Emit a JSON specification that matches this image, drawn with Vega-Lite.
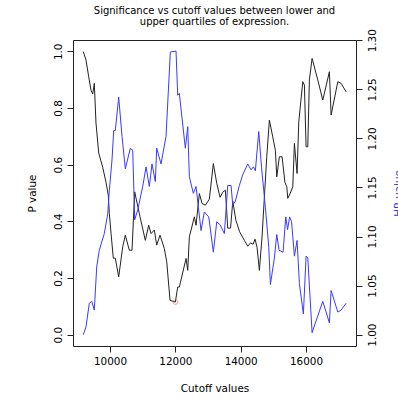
{
  "$schema": "https://vega.github.io/schema/vega-lite/v6.json",
  "width": 283,
  "height": 306,
  "autosize": {"type": "none"},
  "padding": {"left": 73, "top": 40, "right": 42, "bottom": 53},
  "background": "white",
  "title": {
    "text": ["Significance vs cutoff values between lower and", "upper quartiles of expression."],
    "font": "DejaVu Sans",
    "fontSize": 10,
    "fontWeight": "normal",
    "color": "black",
    "anchor": "middle",
    "lineHeight": 11,
    "offset": 2
  },
  "config": {
    "view": {"stroke": "#222", "strokeWidth": 1},
    "axis": {
      "labelFont": "DejaVu Sans",
      "labelFontSize": 10.4,
      "labelColor": "black",
      "titleFont": "DejaVu Sans",
      "titleFontSize": 10.4,
      "titleFontWeight": "normal",
      "titleColor": "black",
      "tickColor": "#222",
      "tickSize": 6,
      "domain": false,
      "grid": false
    }
  },
  "layer": [
    {
      "layer": [
        {
          "data": {"values": [
            {"c": 9182, "p": 0.999}, {"c": 9265, "p": 0.969}, {"c": 9348, "p": 0.910}, {"c": 9418, "p": 0.863},
            {"c": 9470, "p": 0.849}, {"c": 9519, "p": 0.887}, {"c": 9571, "p": 0.747}, {"c": 9654, "p": 0.641},
            {"c": 9776, "p": 0.591}, {"c": 9877, "p": 0.538}, {"c": 9948, "p": 0.492}, {"c": 9979, "p": 0.428},
            {"c": 10031, "p": 0.358}, {"c": 10101, "p": 0.270}, {"c": 10162, "p": 0.270}, {"c": 10266, "p": 0.204},
            {"c": 10389, "p": 0.310}, {"c": 10469, "p": 0.351}, {"c": 10591, "p": 0.298}, {"c": 10674, "p": 0.298},
            {"c": 10756, "p": 0.504}, {"c": 10919, "p": 0.416}, {"c": 11081, "p": 0.333}, {"c": 11185, "p": 0.386},
            {"c": 11256, "p": 0.357}, {"c": 11357, "p": 0.369}, {"c": 11430, "p": 0.316}, {"c": 11531, "p": 0.351},
            {"c": 11663, "p": 0.304}, {"c": 11737, "p": 0.257}, {"c": 11838, "p": 0.121}, {"c": 12000, "p": 0.115},
            {"c": 12073, "p": 0.168}, {"c": 12122, "p": 0.168}, {"c": 12328, "p": 0.269}, {"c": 12380, "p": 0.227},
            {"c": 12429, "p": 0.345}, {"c": 12582, "p": 0.416}, {"c": 12634, "p": 0.386}, {"c": 12735, "p": 0.498},
            {"c": 12818, "p": 0.463}, {"c": 12919, "p": 0.457}, {"c": 13041, "p": 0.478}, {"c": 13164, "p": 0.604},
            {"c": 13268, "p": 0.534}, {"c": 13369, "p": 0.485}, {"c": 13452, "p": 0.503}, {"c": 13531, "p": 0.510},
            {"c": 13605, "p": 0.376}, {"c": 13691, "p": 0.376}, {"c": 13758, "p": 0.471}, {"c": 13853, "p": 0.404},
            {"c": 13969, "p": 0.363}, {"c": 14113, "p": 0.333}, {"c": 14217, "p": 0.312}, {"c": 14303, "p": 0.324},
            {"c": 14380, "p": 0.319}, {"c": 14441, "p": 0.337}, {"c": 14502, "p": 0.308}, {"c": 14573, "p": 0.227},
            {"c": 14655, "p": 0.345}, {"c": 14726, "p": 0.486}, {"c": 14799, "p": 0.628}, {"c": 14879, "p": 0.757},
            {"c": 14983, "p": 0.698}, {"c": 15063, "p": 0.651}, {"c": 15106, "p": 0.557}, {"c": 15185, "p": 0.628},
            {"c": 15268, "p": 0.628}, {"c": 15354, "p": 0.538}, {"c": 15412, "p": 0.522}, {"c": 15442, "p": 0.481},
            {"c": 15513, "p": 0.498}, {"c": 15596, "p": 0.522}, {"c": 15645, "p": 0.675}, {"c": 15727, "p": 0.569},
            {"c": 15779, "p": 0.751}, {"c": 15902, "p": 0.893}, {"c": 15951, "p": 0.881}, {"c": 16003, "p": 0.663},
            {"c": 16055, "p": 0.663}, {"c": 16104, "p": 0.899}, {"c": 16187, "p": 0.975}, {"c": 16361, "p": 0.899},
            {"c": 16514, "p": 0.828}, {"c": 16716, "p": 0.928}, {"c": 16769, "p": 0.775}, {"c": 16974, "p": 0.893},
            {"c": 17075, "p": 0.887}, {"c": 17228, "p": 0.857}
          ]},
          "mark": {"type": "line", "color": "#222", "strokeWidth": 1, "clip": true},
          "encoding": {
            "x": {"field": "c", "type": "quantitative", "sort": null,
                  "scale": {"domain": [8867, 17531], "nice": false, "zero": false},
                  "axis": {"values": [10000, 12000, 14000, 16000], "format": "d", "labelPadding": 4, "labelBaseline": "top",
                           "title": "Cutoff values", "titleColor": "black", "titleX": 141.5, "titleY": 42, "titleBaseline": "middle", "titleAlign": "center"}},
            "y": {"field": "p", "type": "quantitative",
                  "scale": {"domain": [-0.04, 1.04], "nice": false, "zero": false},
                  "axis": {"orient": "left", "values": [0, 0.2, 0.4, 0.6, 0.8, 1.0], "format": ".1f",
                           "labelAngle": -90, "labelAlign": "center", "labelBaseline": "bottom", "labelPadding": 4,
                           "title": "P value", "titleColor": "black", "titleX": -41, "titleY": 153, "titleAngle": -90,
                           "titleAlign": "center", "titleBaseline": "middle"}}
          }
        },
        {
          "data": {"values": [{"c": 12000, "p": 0.115}]},
          "mark": {"type": "point", "shape": "circle", "filled": false, "stroke": "#f06060", "strokeWidth": 0.8, "size": 22},
          "encoding": {
            "x": {"field": "c", "type": "quantitative",
                  "scale": {"domain": [8867, 17531], "nice": false, "zero": false},
                  "axis": {"values": [10000, 12000, 14000, 16000], "format": "d", "labelPadding": 4, "labelBaseline": "top",
                           "title": "Cutoff values", "titleColor": "black", "titleX": 141.5, "titleY": 42, "titleBaseline": "middle", "titleAlign": "center"}},
            "y": {"field": "p", "type": "quantitative",
                  "scale": {"domain": [-0.04, 1.04], "nice": false, "zero": false},
                  "axis": {"orient": "left", "values": [0, 0.2, 0.4, 0.6, 0.8, 1.0], "format": ".1f",
                           "labelAngle": -90, "labelAlign": "center", "labelBaseline": "bottom", "labelPadding": 4,
                           "title": "P value", "titleColor": "black", "titleX": -41, "titleY": 153, "titleAngle": -90,
                           "titleAlign": "center", "titleBaseline": "middle"}}
          }
        }
      ]
    },
    {
      "data": {"values": [
        {"c": 9182, "hr": 1.000}, {"c": 9265, "hr": 1.008}, {"c": 9366, "hr": 1.032}, {"c": 9440, "hr": 1.034},
        {"c": 9519, "hr": 1.025}, {"c": 9593, "hr": 1.069}, {"c": 9672, "hr": 1.086}, {"c": 9825, "hr": 1.103},
        {"c": 9930, "hr": 1.123}, {"c": 9979, "hr": 1.147}, {"c": 10061, "hr": 1.178}, {"c": 10113, "hr": 1.208},
        {"c": 10162, "hr": 1.208}, {"c": 10266, "hr": 1.242}, {"c": 10368, "hr": 1.202}, {"c": 10469, "hr": 1.169},
        {"c": 10622, "hr": 1.190}, {"c": 10695, "hr": 1.188}, {"c": 10756, "hr": 1.117}, {"c": 10848, "hr": 1.127},
        {"c": 11001, "hr": 1.151}, {"c": 11103, "hr": 1.171}, {"c": 11204, "hr": 1.151}, {"c": 11286, "hr": 1.174},
        {"c": 11387, "hr": 1.156}, {"c": 11430, "hr": 1.190}, {"c": 11562, "hr": 1.174}, {"c": 11715, "hr": 1.202},
        {"c": 11847, "hr": 1.288}, {"c": 12021, "hr": 1.289}, {"c": 12073, "hr": 1.244}, {"c": 12122, "hr": 1.246},
        {"c": 12306, "hr": 1.190}, {"c": 12380, "hr": 1.212}, {"c": 12429, "hr": 1.161}, {"c": 12551, "hr": 1.144},
        {"c": 12634, "hr": 1.151}, {"c": 12787, "hr": 1.106}, {"c": 12888, "hr": 1.125}, {"c": 13023, "hr": 1.120},
        {"c": 13164, "hr": 1.084}, {"c": 13268, "hr": 1.115}, {"c": 13369, "hr": 1.112}, {"c": 13501, "hr": 1.103},
        {"c": 13605, "hr": 1.152}, {"c": 13706, "hr": 1.152}, {"c": 13758, "hr": 1.132}, {"c": 13838, "hr": 1.136},
        {"c": 13960, "hr": 1.152}, {"c": 14064, "hr": 1.163}, {"c": 14217, "hr": 1.174}, {"c": 14318, "hr": 1.168},
        {"c": 14389, "hr": 1.171}, {"c": 14450, "hr": 1.167}, {"c": 14554, "hr": 1.207}, {"c": 14640, "hr": 1.170},
        {"c": 14756, "hr": 1.130}, {"c": 14861, "hr": 1.089}, {"c": 14910, "hr": 1.051}, {"c": 15032, "hr": 1.078},
        {"c": 15106, "hr": 1.102}, {"c": 15176, "hr": 1.086}, {"c": 15298, "hr": 1.084}, {"c": 15381, "hr": 1.120},
        {"c": 15436, "hr": 1.107}, {"c": 15498, "hr": 1.120}, {"c": 15559, "hr": 1.115}, {"c": 15645, "hr": 1.080},
        {"c": 15727, "hr": 1.096}, {"c": 15798, "hr": 1.052}, {"c": 15920, "hr": 1.021}, {"c": 16003, "hr": 1.080},
        {"c": 16055, "hr": 1.078}, {"c": 16187, "hr": 1.002}, {"c": 16514, "hr": 1.034}, {"c": 16716, "hr": 1.012},
        {"c": 16769, "hr": 1.045}, {"c": 16974, "hr": 1.023}, {"c": 17075, "hr": 1.025}, {"c": 17228, "hr": 1.032}
      ]},
      "mark": {"type": "line", "color": "#3a3aff", "strokeWidth": 1, "clip": true},
      "encoding": {
        "x": {"field": "c", "type": "quantitative", "sort": null},
        "y": {"field": "hr", "type": "quantitative",
              "scale": {"domain": [0.9884, 1.3003], "nice": false, "zero": false},
              "axis": {"orient": "right", "values": [1.0, 1.05, 1.1, 1.15, 1.2, 1.25, 1.3], "format": ".2f",
                       "labelAngle": -90, "labelAlign": "center", "labelBaseline": "top", "labelPadding": 5,
                       "title": "HR value", "titleColor": "#3333ff", "titleX": 42, "titleY": 153, "titleAngle": -90,
                       "titleAlign": "center", "titleBaseline": "middle"}}
      }
    }
  ],
  "resolve": {"scale": {"y": "independent"}, "axis": {"y": "independent"}}
}
